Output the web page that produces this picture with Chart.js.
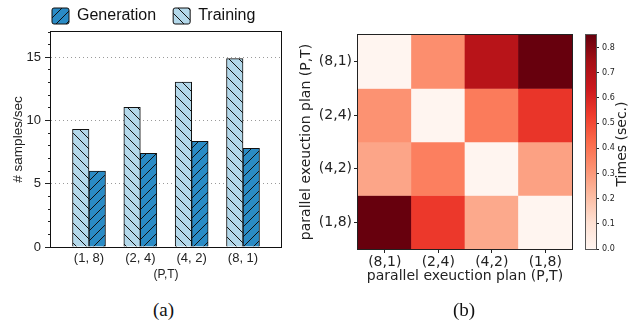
<!DOCTYPE html>
<html>
<head>
<meta charset="utf-8">
<script src="https://cdn.jsdelivr.net/npm/chart.js@4.4.1/dist/chart.umd.min.js"></script>
<style>
  html, body { margin: 0; padding: 0; background: #fff; }
  body { width: 639px; height: 323px; position: relative; overflow: hidden; }
  canvas { position: absolute; }
  .cap { position: absolute; font-family: 'Liberation Serif', 'Times New Roman', serif; font-size: 19px; line-height: 20px; color: #111; }
  #cb-title {
    position: absolute; left: 578px; top: 136px; width: 86px; height: 16px;
    line-height: 16px; text-align: center; white-space: nowrap;
    font-family: 'DejaVu Sans', sans-serif; font-size: 14px; color: #222;
    transform: rotate(-90deg);
  }
</style>
</head>
<body>
<canvas id="bars" width="300" height="285" style="left:0;top:0"></canvas>
<canvas id="heat" width="300" height="300" style="left:290px;top:0"></canvas>
<canvas id="cbar" width="79" height="300" style="left:560px;top:0"></canvas>
<div class="cap" style="left:153px;top:300px">(a)</div>
<div class="cap" style="left:453px;top:300px">(b)</div>
<div id="cb-title">Times (sec.)</div>
<script>
// (a) throughput per plan
const planLabels = ['(1, 8)', '(2, 4)', '(4, 2)', '(8, 1)'];
const trainingRate = [9.3, 11.05, 13.05, 14.9];
const generationRate = [6.0, 7.4, 8.35, 7.8];
const rateTicks = [0, 1, 2, 3, 4, 5, 6, 7, 8, 9, 10, 11, 12, 13, 14, 15, 16, 17];

// (b) switching time between plans (rows top to bottom, cols left to right)
const heatRows = ['(8,1)', '(2,4)', '(4,2)', '(1,8)'];
const heatCols = ['(8,1)', '(2,4)', '(4,2)', '(1,8)'];
const timesFrom81 = [0.00, 0.33, 0.69, 0.85];
const timesFrom24 = [0.32, 0.00, 0.38, 0.55];
const timesFrom42 = [0.27, 0.37, 0.00, 0.28];
const timesFrom18 = [0.85, 0.54, 0.26, 0.00];
const cbTicks = [0, 0.1, 0.2, 0.3, 0.4, 0.5, 0.6, 0.7, 0.8];
const cbMax = 0.85;

const redsStops = ['#fff5f0', '#fee0d2', '#fcbba1', '#fc9272', '#fb6a4a', '#ef3b2c', '#cb181d', '#a50f15', '#67000d'];

Chart.defaults.font.family = "'Liberation Sans', Arial, sans-serif";
Chart.defaults.color = '#222';

const hexToRgb = (h) => [1, 3, 5].map(i => parseInt(h.slice(i, i + 2), 16));

const reds = (t) => {
  t = Math.max(0, Math.min(1, t));
  const pos = t * (redsStops.length - 1);
  const i = Math.min(Math.floor(pos), redsStops.length - 2);
  const f = pos - i;
  const a = hexToRgb(redsStops[i]);
  const b = hexToRgb(redsStops[i + 1]);
  const c = a.map((v, k) => Math.round(v + (b[k] - v) * f));
  return `rgb(${c[0]}, ${c[1]}, ${c[2]})`;
};

const hatch = (bg, dir) => {
  const size = 10;
  const c = document.createElement('canvas');
  c.width = c.height = size;
  const g = c.getContext('2d');
  g.fillStyle = bg;
  g.fillRect(0, 0, size, size);
  g.strokeStyle = '#111';
  g.lineWidth = 1;
  g.beginPath();
  for (const k of [-size, 0, size]) {
    if (dir === '/') {
      g.moveTo(k, size);
      g.lineTo(k + size, 0);
    } else {
      g.moveTo(k, 0);
      g.lineTo(k + size, size);
    }
  }
  g.stroke();
  return g.createPattern(c, 'repeat');
};

const framePlugin = {
  id: 'frame',
  afterDatasetsDraw(chart, args, opts) {
    const { ctx, chartArea: a } = chart;
    ctx.save();
    ctx.strokeStyle = opts.color || '#111';
    ctx.lineWidth = 1;
    ctx.strokeRect(a.left - 0.5, a.top - 0.5, a.right - a.left + 1, a.bottom - a.top + 1);
    ctx.restore();
  }
};
Chart.register(framePlugin);

// the legend sits above the plot, left aligned with the axes
const legendPlace = {
  id: 'legendPlace',
  afterLayout(chart) {
    const lg = chart.legend;
    lg.left = 35;
    lg.right = 300;
    lg.top = -9;
  }
};

new Chart(document.getElementById('bars'), {
  type: 'bar',
  data: {
    datasets: [
      {
        label: 'Training',
        data: trainingRate.map((v, i) => ({ x: i, y: v })),
        backgroundColor: hatch('#b3d8ea', '\\'),
        borderColor: '#111',
        borderWidth: 1,
        barThickness: 16.5
      },
      {
        label: 'Generation',
        data: generationRate.map((v, i) => ({ x: i, y: v })),
        backgroundColor: hatch('#2a8bc5', '/'),
        borderColor: '#111',
        borderWidth: 1,
        barThickness: 16.5
      }
    ]
  },
  options: {
    responsive: false,
    animation: false,
    layout: { padding: { left: 0, right: 19, top: 0, bottom: 0 } },
    plugins: {
      legend: {
        reverse: true,
        align: 'start',
        maxHeight: 32,
        labels: {
          font: { size: 16 },
          color: '#111',
          boxWidth: 17,
          boxHeight: 16,
          padding: 17,
          useBorderRadius: true,
          borderRadius: 2
        }
      },
      tooltip: { enabled: false }
    },
    scales: {
      x: {
        type: 'linear',
        offset: false,
        min: -0.74,
        max: 3.74,
        afterBuildTicks: (s) => { s.ticks = planLabels.map((_, i) => ({ value: i })); },
        ticks: { callback: (v, i) => planLabels[i], font: { size: 13 }, padding: 4, maxRotation: 0, autoSkip: false },
        grid: { display: false, drawTicks: false },
        border: { display: false },
        title: { display: true, text: '(P,T)', font: { size: 12 }, padding: { top: 0, bottom: 3 } },
        afterFit: (s) => { s.height = 38; }
      },
      y: {
        min: 0,
        max: 17,
        afterBuildTicks: (s) => { s.ticks = rateTicks.map(v => ({ value: v })); },
        ticks: { callback: (v) => (v % 5 === 0 ? v : ''), font: { size: 13 }, padding: 4, autoSkip: false },
        grid: {
          color: (c) => (c.tick && c.tick.value % 5 === 0 && c.tick.value > 0 ? '#9a9a9a' : 'rgba(0,0,0,0)'),
          tickColor: '#222',
          tickLength: 6,
          tickBorderDash: (c) => (c.tick && c.tick.value % 5 ? [0, 3, 3] : [])
        },
        border: { display: false, dash: (c) => (c.tick ? [1, 3] : []) },
        title: { display: true, text: '# samples/sec', font: { size: 13.5 }, padding: { top: 10, bottom: 0 } },
        afterFit: (s) => { s.width = 51; }
      }
    }
  },
  plugins: [legendPlace]
});

const heatValues = [timesFrom81, timesFrom24, timesFrom42, timesFrom18];

new Chart(document.getElementById('heat'), {
  type: 'bar',
  data: {
    labels: heatCols,
    datasets: heatRows.map((row, r) => ({
      label: row,
      data: heatCols.map(() => [heatRows.length - 1 - r, heatRows.length - r]),
      backgroundColor: heatValues[r].map(v => reds(v / cbMax)),
      borderWidth: 0,
      barPercentage: 1,
      categoryPercentage: 1,
      grouped: false
    }))
  },
  options: {
    responsive: false,
    animation: false,
    layout: { padding: { left: 0, right: 18, top: 35, bottom: 0 } },
    plugins: { legend: { display: false }, tooltip: { enabled: false }, frame: { color: '#222' } },
    scales: {
      x: {
        ticks: { font: { family: 'DejaVu Sans', size: 14 }, padding: 1, maxRotation: 0 },
        grid: { offset: false, drawOnChartArea: false, tickLength: 4, tickColor: '#222' },
        border: { display: false },
        title: { display: true, text: 'parallel exeuction plan (P,T)', font: { family: 'DejaVu Sans', size: 14 }, padding: { top: 0, bottom: 15 } },
        afterFit: (s) => { s.height = 51; }
      },
      y: {
        min: 0,
        max: heatRows.length,
        afterBuildTicks: (s) => { s.ticks = heatRows.map((_, r) => ({ value: heatRows.length - r - 0.5 })); },
        ticks: { callback: (v, i) => heatRows[i], font: { family: 'DejaVu Sans', size: 14 }, padding: 2, autoSkip: false },
        grid: { drawOnChartArea: false, tickLength: 4, tickColor: '#222' },
        border: { display: false },
        title: { display: true, text: 'parallel exeuction plan (P,T)', font: { family: 'DejaVu Sans', size: 14 }, padding: { top: 8, bottom: 0 } },
        afterFit: (s) => { s.width = 68; }
      }
    }
  }
});

new Chart(document.getElementById('cbar'), {
  type: 'bar',
  data: {
    labels: [''],
    datasets: [{
      data: [[0, cbMax]],
      backgroundColor: (c) => {
        const area = c.chart.chartArea;
        if (!area) return redsStops[0];
        const g = c.chart.ctx.createLinearGradient(0, area.bottom, 0, area.top);
        redsStops.forEach((col, i) => g.addColorStop(i / (redsStops.length - 1), col));
        return g;
      },
      borderWidth: 0,
      barPercentage: 1,
      categoryPercentage: 1
    }]
  },
  options: {
    responsive: false,
    animation: false,
    layout: { padding: { left: 26, right: 0, top: 35, bottom: 51 } },
    plugins: { legend: { display: false }, tooltip: { enabled: false }, frame: { color: '#555' } },
    scales: {
      x: { display: false },
      y: {
        position: 'right',
        min: 0,
        max: cbMax,
        afterBuildTicks: (s) => { s.ticks = cbTicks.map(v => ({ value: v })); },
        ticks: { callback: (v) => v.toFixed(1), font: { family: 'DejaVu Sans', size: 8 }, padding: 3, autoSkip: false },
        grid: { drawOnChartArea: false, tickLength: 3, tickColor: '#222' },
        border: { display: false },
        afterFit: (s) => { s.width = 43; }
      }
    }
  }
});
</script>
</body>
</html>
